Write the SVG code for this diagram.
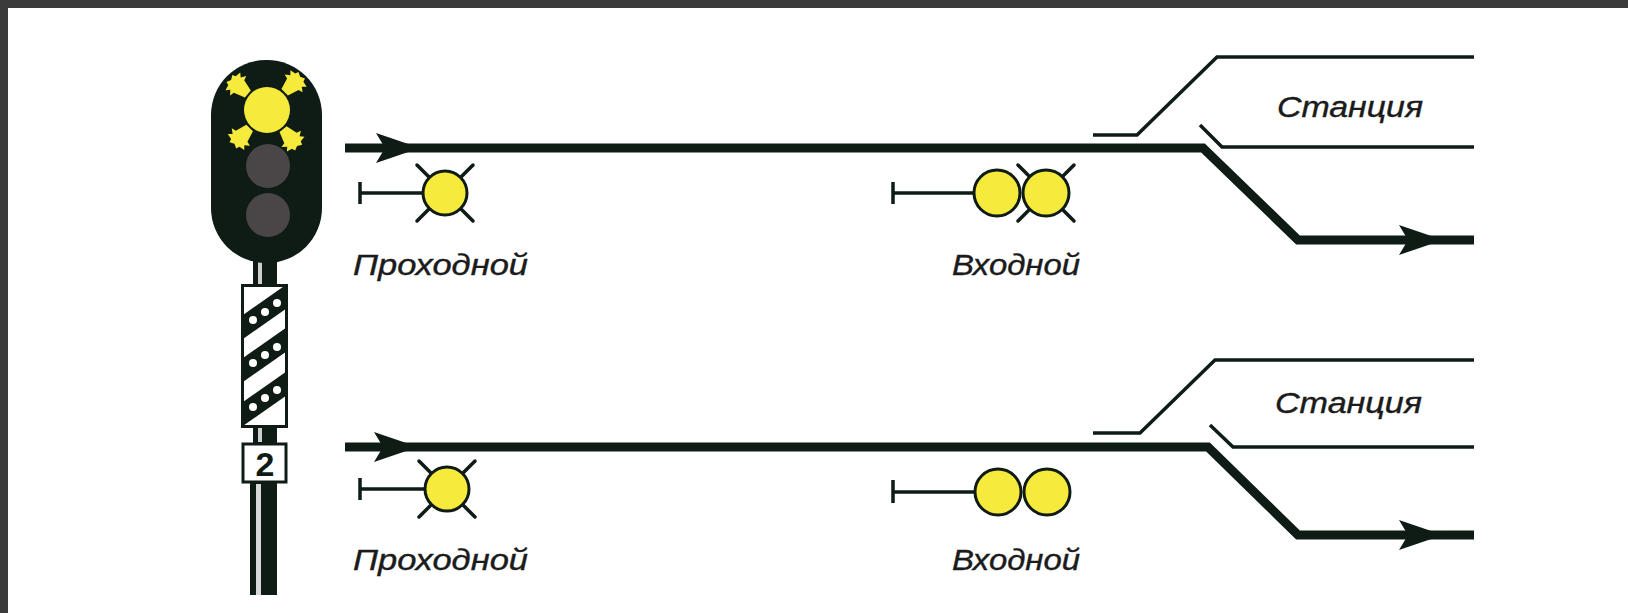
<svg xmlns="http://www.w3.org/2000/svg" width="1628" height="613" viewBox="0 0 1628 613">
  <style>
    .frame { fill: #3b3b3b; }
    .track { fill: none; stroke: #0f1c16; stroke-width: 9; stroke-linejoin: miter; }
    .thin { fill: none; stroke: #0f1c16; stroke-width: 3.5; stroke-linejoin: miter; }
    .head { fill: #0f1c16; }
    .lamp { fill: #f6ea3c; stroke: #0f1c16; stroke-width: 3; }
    .stem { fill: none; stroke: #0f1c16; stroke-width: 3.5; }
    .ray { fill: none; stroke: #0f1c16; stroke-width: 3.5; stroke-linecap: round; }
    .label { font-family: "Liberation Sans", Arial, sans-serif; font-style: italic; font-size: 30px; fill: #1b1b1b; stroke: #1b1b1b; stroke-width: 0.4; }
    .dim { fill: #4a4547; }
    .glow { fill: #f6ea3c; }
  </style>
  <defs>
    <!-- arrowhead pointing right, tip at origin -->
    <polygon id="arrowhead" points="0,0 -44,-15 -35,0 -44,15" fill="#0f1c16"/>
    <!-- crown-shaped glow ray, pointing along +x -->
    <polygon id="crown" points="0,-4 10,-7 11,-11 14,-7 17,-10 18,-5 21,-4 19,0 21,4 18,5 17,10 14,7 11,11 10,7 0,4" class="glow"/>
    <!-- a lit lamp's four diagonal rays -->
    <g id="rays">
      <line x1="-15" y1="-15" x2="-28" y2="-28" class="ray"/>
      <line x1="15" y1="-15" x2="28" y2="-28" class="ray"/>
      <line x1="-15" y1="15" x2="-28" y2="28" class="ray"/>
      <line x1="15" y1="15" x2="28" y2="28" class="ray"/>
    </g>
    <clipPath id="plateClip">
      <rect x="244" y="287" width="41" height="138"/>
    </clipPath>
  </defs>

  <!-- background and frame -->
  <rect x="0" y="0" width="1628" height="613" fill="#ffffff"/>
  <rect class="frame" x="0" y="0" width="1628" height="8"/>
  <rect class="frame" x="0" y="0" width="8" height="613"/>

  <!-- mast signal with route indicator -->
  <g id="mast-signal">
    <!-- pole and necks -->
    <rect x="250" y="480" width="27" height="115" class="head"/>
    <rect x="256" y="484" width="5" height="111" fill="#d9d9d9"/>
    <rect x="253" y="258" width="24" height="30" class="head"/>
    <rect x="258" y="262" width="4" height="22" fill="#cfcfcf"/>
    <rect x="253" y="424" width="24" height="22" class="head"/>
    <rect x="258" y="428" width="4" height="14" fill="#cfcfcf"/>
    <!-- head -->
    <rect x="211" y="60" width="111" height="203" rx="55" ry="55" class="head"/>
    <circle cx="267" cy="110" r="23" class="glow"/>
    <circle cx="268" cy="166" r="22" class="dim"/>
    <circle cx="268" cy="215" r="22" class="dim"/>
    <use href="#crown" transform="translate(267,110) rotate(-140) translate(25,0) scale(1.15)"/>
    <use href="#crown" transform="translate(267,110) rotate(-45) translate(25,0) scale(1.15)"/>
    <use href="#crown" transform="translate(267,110) rotate(134) translate(25,0) scale(1.15)"/>
    <use href="#crown" transform="translate(267,110) rotate(50) translate(25,0) scale(1.15)"/>
    <!-- striped plate -->
    <rect x="242.5" y="285.5" width="44" height="141" fill="#ffffff" stroke="#0f1c16" stroke-width="3"/>
    <g clip-path="url(#plateClip)" fill="#0f1c16">
      <polygon points="230,324 300,275 300,299 230,348"/>
      <polygon points="230,367 300,318 300,342 230,391"/>
      <polygon points="230,411 300,362 300,386 230,435"/>
      <g fill="#ffffff">
        <circle cx="253" cy="320" r="4"/><circle cx="265" cy="312" r="4"/><circle cx="277" cy="303" r="4"/>
        <circle cx="253" cy="363" r="4"/><circle cx="265" cy="355" r="4"/><circle cx="277" cy="347" r="4"/>
        <circle cx="253" cy="407" r="4"/><circle cx="265" cy="398" r="4"/><circle cx="277" cy="390" r="4"/>
      </g>
    </g>
    <!-- number plate -->
    <rect x="243" y="444" width="43" height="38" fill="#ffffff" stroke="#0f1c16" stroke-width="3"/>
    <text x="265" y="476" text-anchor="middle" font-family="Liberation Sans, Arial, sans-serif" font-weight="bold" font-size="34" fill="#0f1c16">2</text>
  </g>

  <!-- track layouts -->
  <g id="connectors">
    <path class="track" d="M345,148 L1203,148 L1298,240 L1474,240"/>
    <path class="thin" d="M1093,135 L1137,135 L1217,57 L1474,57"/>
    <path class="thin" d="M1200,125 L1222,147 L1474,147"/>
    <use href="#arrowhead" x="420" y="148"/>
    <use href="#arrowhead" x="1443" y="240"/>

    <path class="track" d="M345,447 L1208,447 L1298,535 L1474,535"/>
    <path class="thin" d="M1093,433 L1140,433 L1215,360 L1474,360"/>
    <path class="thin" d="M1210,425 L1233,447 L1474,447"/>
    <use href="#arrowhead" x="418" y="447"/>
    <use href="#arrowhead" x="1443" y="535"/>
  </g>

  <!-- upper scheme: passing signal -->
  <g id="passing-top">
    <path class="stem" d="M360,182 L360,204 M360,193 L423,193"/>
    <use href="#rays" x="445" y="193"/>
    <circle cx="445" cy="193" r="22" class="lamp"/>
    <text class="label" x="353" y="275" textLength="175" lengthAdjust="spacingAndGlyphs">Проходной</text>
  </g>

  <!-- upper scheme: entry signal -->
  <g id="entry-top">
    <path class="stem" d="M893,182 L893,204 M893,193 L974,193"/>
    <use href="#rays" x="1046" y="193"/>
    <circle cx="997" cy="193" r="23" class="lamp"/>
    <circle cx="1046" cy="193" r="23" class="lamp"/>
    <text class="label" x="952" y="275" textLength="128" lengthAdjust="spacingAndGlyphs">Входной</text>
  </g>

  <g id="station-top">
    <text class="label" x="1277" y="117" textLength="146" lengthAdjust="spacingAndGlyphs">Станция</text>
  </g>

  <!-- lower scheme: passing signal -->
  <g id="passing-bottom">
    <path class="stem" d="M360,478 L360,500 M360,489 L425,489"/>
    <use href="#rays" x="447" y="489"/>
    <circle cx="447" cy="489" r="22" class="lamp"/>
    <text class="label" x="353" y="570" textLength="175" lengthAdjust="spacingAndGlyphs">Проходной</text>
  </g>

  <!-- lower scheme: entry signal -->
  <g id="entry-bottom">
    <path class="stem" d="M893,480 L893,503 M893,492 L975,492"/>
    <circle cx="998" cy="492" r="23" class="lamp"/>
    <circle cx="1047" cy="492" r="23" class="lamp"/>
    <text class="label" x="952" y="570" textLength="128" lengthAdjust="spacingAndGlyphs">Входной</text>
  </g>

  <g id="station-bottom">
    <text class="label" x="1275" y="413" textLength="147" lengthAdjust="spacingAndGlyphs">Станция</text>
  </g>
</svg>
